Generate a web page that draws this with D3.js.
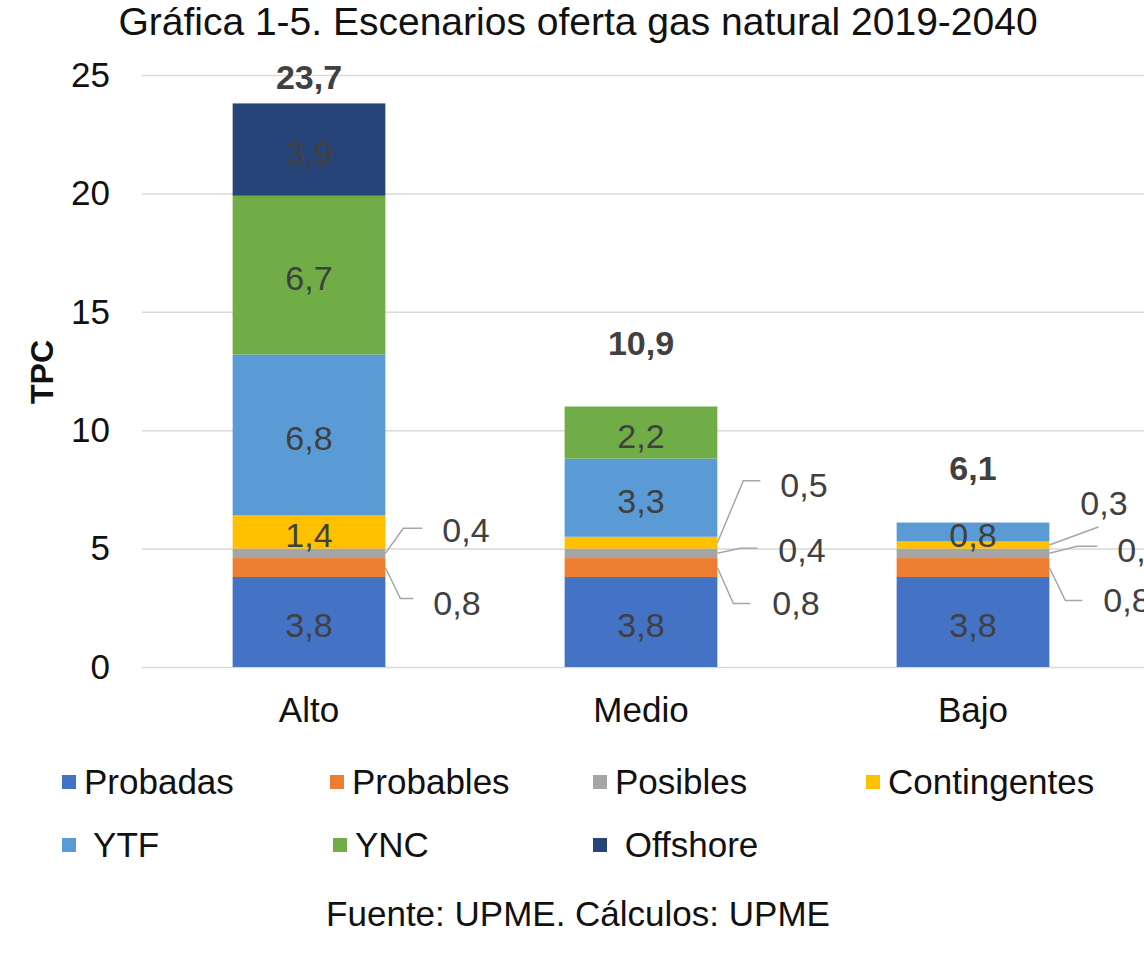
<!DOCTYPE html>
<html>
<head>
<meta charset="utf-8">
<title>Escenarios oferta gas natural 2019-2040</title>
<script src="https://cdn.jsdelivr.net/npm/d3@7"></script>
<style>
  body { margin: 0; background: #fff; }
  svg text { font-family: "Liberation Sans", Arial, sans-serif; }
</style>
</head>
<body>
<div id="chart"></div>
<script>
// data
var scenarios = ["Alto", "Medio", "Bajo"];
var seriesNames = ["Probadas", "Probables", "Posibles", "Contingentes", "YTF", "YNC", "Offshore"];
var seriesColors = ["#4472C4", "#ED7D31", "#A5A5A5", "#FFC000", "#5B9BD5", "#70AD47", "#264478"];
var probadas     = [3.8, 3.8, 3.8];
var probables    = [0.8, 0.8, 0.8];
var posibles     = [0.4, 0.4, 0.4];
var contingentes = [1.4, 0.5, 0.3];
var ytf          = [6.8, 3.3, 0.8];
var ync          = [6.7, 2.2, 0];
var offshore     = [3.9, 0, 0];
var totals       = [23.7, 10.9, 6.1];
var yTicks       = [0, 5, 10, 15, 20, 25];
var legendLabels = ["Probadas", "Probables", "Posibles", "Contingentes", " YTF", "YNC", " Offshore"];

var values = [probadas, probables, posibles, contingentes, ytf, ync, offshore];
var fmt = function(v) { return String(v).replace(".", ","); };

// segments labelled outside the bar with a leader line: [serie, scenario]
var outside = [[2, 0], [1, 0], [3, 1], [2, 1], [1, 1], [3, 2], [2, 2], [1, 2]];
// leader shape relative to (bar right edge, segment middle): elbow, line end, text start
var leaders = [
  {ex: 18, ey: -25, hx: 37, tx: 57, ty: -23},
  {ex: 15, ey: 31, hx: 28, tx: 48, ty: 36},
  {ex: 26, ey: -62, hx: 43, tx: 63, ty: -58},
  {ex: 23, ey: -5, hx: 40, tx: 61, ty: -3},
  {ex: 16, ey: 36, hx: 33, tx: 55, ty: 36},
  {ex: 49, ey: -18, hx: 49, tx: 31, ty: -42},
  {ex: 28, ey: -7, hx: 48, tx: 68, ty: -3},
  {ex: 16, ey: 33, hx: 33, tx: 54, ty: 33}
];
var totalLift = [17, 54, 43];

var W = 1144, H = 971;
var svg = d3.select("#chart").append("svg")
  .attr("width", W).attr("height", H);

var x = d3.scaleBand()
  .domain(scenarios)
  .range([143, 1139])
  .paddingInner(0.54)
  .paddingOuter(0.27);

var y = d3.scaleLinear()
  .domain([0, 25])
  .range([667, 75]);

// title
svg.append("text")
  .attr("x", 578).attr("y", 35)
  .attr("text-anchor", "middle")
  .style("font-size", "39px").style("fill", "#111")
  .text("Gráfica 1-5. Escenarios oferta gas natural 2019-2040");

// y axis + gridlines
var yAxis = svg.append("g")
  .attr("transform", "translate(142,0)")
  .call(d3.axisLeft(y).tickValues(yTicks).tickSize(-(W - 142)).tickPadding(32));
yAxis.select(".domain").remove();
yAxis.selectAll(".tick line").attr("stroke", "#d9d9d9").attr("stroke-width", 1.5);
yAxis.selectAll(".tick text")
  .style("font-size", "35px").style("fill", "#111");

svg.append("text")
  .attr("transform", "translate(53,372) rotate(-90)")
  .attr("text-anchor", "middle")
  .style("font-size", "32px").style("font-weight", "bold").style("fill", "#111")
  .text("TPC");

// x axis
var xAxis = svg.append("g")
  .attr("transform", "translate(0,667)")
  .call(d3.axisBottom(x).tickSize(0).tickPadding(30));
xAxis.select(".domain").remove();
xAxis.selectAll(".tick text")
  .style("font-size", "35px").style("fill", "#111");

// stacked bars
var rows = scenarios.map(function(s, i) {
  var r = {scenario: s};
  seriesNames.forEach(function(n, k) { r[n] = values[k][i]; });
  return r;
});
var stacked = d3.stack().keys(seriesNames)(rows);

var layers = svg.append("g").selectAll("g")
  .data(stacked)
  .enter().append("g")
  .attr("fill", function(d, k) { return seriesColors[k]; });

layers.selectAll("rect")
  .data(function(d) { return d; })
  .enter().append("rect")
  .attr("x", function(d) { return x(d.data.scenario); })
  .attr("y", function(d) { return y(d[1]); })
  .attr("height", function(d) { return y(d[0]) - y(d[1]); })
  .attr("width", x.bandwidth());

// labels inside the segments
function isOutside(k, i) {
  return outside.some(function(o) { return o[0] === k && o[1] === i; });
}
stacked.forEach(function(layer, k) {
  layer.forEach(function(d, i) {
    var v = values[k][i];
    if (!v || isOutside(k, i)) return;
    svg.append("text")
      .attr("x", x(scenarios[i]) + x.bandwidth() / 2)
      .attr("y", y((d[0] + d[1]) / 2))
      .attr("dy", "0.45em")
      .attr("text-anchor", "middle")
      .style("font-size", "34px").style("fill", "#404040")
      .text(fmt(v));
  });
});

// labels outside with leader lines
outside.forEach(function(o, j) {
  var k = o[0], i = o[1];
  var d = stacked[k][i];
  var x0 = x(scenarios[i]) + x.bandwidth();
  var y0 = y((d[0] + d[1]) / 2);
  var L = leaders[j];
  svg.append("path")
    .attr("d", d3.line()([[x0, y0], [x0 + L.ex, y0 + L.ey], [x0 + L.hx, y0 + L.ey]]))
    .attr("fill", "none").attr("stroke", "#a6a6a6").attr("stroke-width", 1.5);
  svg.append("text")
    .attr("x", x0 + L.tx).attr("y", y0 + L.ty)
    .attr("dy", "0.35em")
    .style("font-size", "34px").style("fill", "#404040")
    .text(fmt(values[k][i]));
});

// totals
scenarios.forEach(function(s, i) {
  svg.append("text")
    .attr("x", x(s) + x.bandwidth() / 2)
    .attr("y", y(totals[i]) - totalLift[i])
    .attr("text-anchor", "middle")
    .style("font-size", "34px").style("font-weight", "bold").style("fill", "#404040")
    .text(fmt(totals[i]));
});

// legend
var legendX = [62, 330, 593, 866, 62, 333, 593];
var legendY = [782, 782, 782, 782, 845, 845, 845];
var legend = svg.append("g").selectAll("g")
  .data(seriesNames)
  .enter().append("g")
  .attr("transform", function(d, k) { return "translate(" + legendX[k] + "," + legendY[k] + ")"; });
legend.append("rect")
  .attr("x", 0).attr("y", -7).attr("width", 14).attr("height", 14)
  .attr("fill", function(d, k) { return seriesColors[k]; });
legend.append("text")
  .attr("x", 22).attr("dy", "0.35em")
  .style("font-size", "35px").style("fill", "#111").style("white-space", "pre")
  .text(function(d, k) { return legendLabels[k]; });

// source
svg.append("text")
  .attr("x", 578).attr("y", 926)
  .attr("text-anchor", "middle")
  .style("font-size", "35px").style("fill", "#111")
  .text("Fuente: UPME. Cálculos: UPME");
</script>
</body>
</html>
